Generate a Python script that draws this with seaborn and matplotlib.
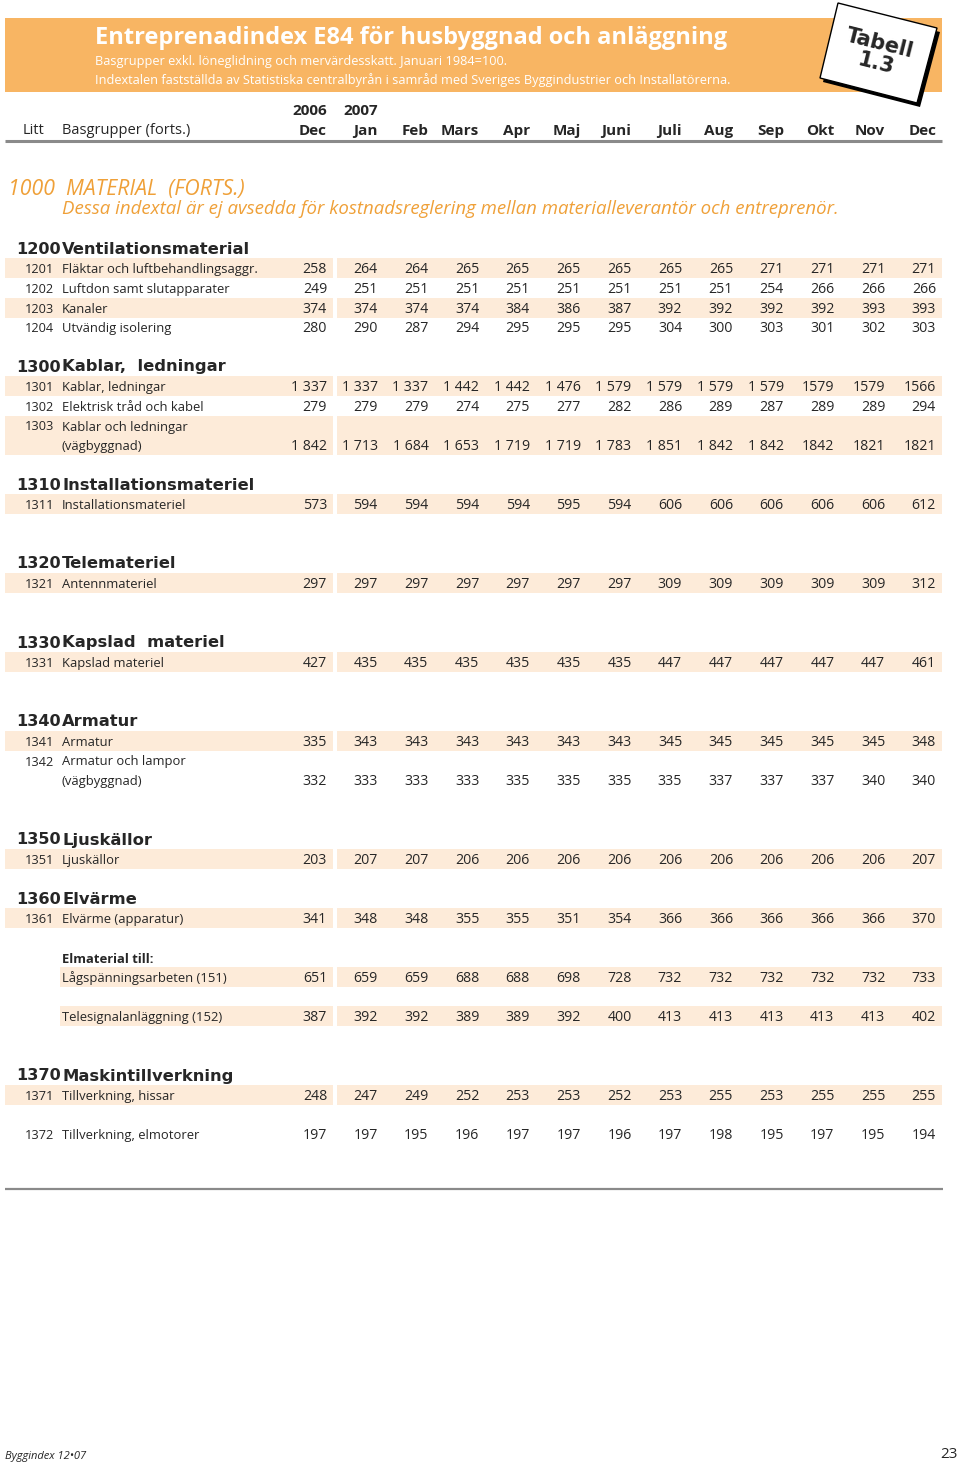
import numpy as np
import seaborn as sns
import matplotlib
matplotlib.use("Agg")
import matplotlib.pyplot as plt
import matplotlib.font_manager as fm
from matplotlib.patches import Polygon, Rectangle

# ---- data ----------------------------------------------------------------
years = ["2006", "2007"]
months = ["Dec", "Jan", "Feb", "Mars", "Apr", "Maj", "Juni", "Juli", "Aug", "Sep", "Okt", "Nov", "Dec"]

sec_codes = ["1200", "1300", "1310", "1320", "1330", "1340", "1350", "1360", "1370"]
sec_titles = ["Ventilationsmaterial", "Kablar,  ledningar", "Installationsmateriel", "Telemateriel",
              "Kapslad  materiel", "Armatur", "Ljuskällor", "Elvärme", "Maskintillverkning"]

row_codes = ["1201", "1202", "1203", "1204", "1301", "1302", "1303", "1311", "1321", "1331",
             "1341", "1342", "1351", "1361", "", "", "1371", "1372"]
row_labels = ["Fläktar och luftbehandlingsaggr.", "Luftdon samt slutapparater", "Kanaler",
              "Utvändig isolering", "Kablar, ledningar", "Elektrisk tråd och kabel",
              "Kablar och ledningar\n(vägbyggnad)", "Installationsmateriel", "Antennmateriel",
              "Kapslad materiel", "Armatur", "Armatur och lampor\n(vägbyggnad)", "Ljuskällor",
              "Elvärme (apparatur)", "Lågspänningsarbeten (151)", "Telesignalanläggning (152)",
              "Tillverkning, hissar", "Tillverkning, elmotorer"]

v1201 = [258, 264, 264, 265, 265, 265, 265, 265, 265, 271, 271, 271, 271]
v1202 = [249, 251, 251, 251, 251, 251, 251, 251, 251, 254, 266, 266, 266]
v1203 = [374, 374, 374, 374, 384, 386, 387, 392, 392, 392, 392, 393, 393]
v1204 = [280, 290, 287, 294, 295, 295, 295, 304, 300, 303, 301, 302, 303]
v1301 = [1337, 1337, 1337, 1442, 1442, 1476, 1579, 1579, 1579, 1579, 1579, 1579, 1566]
v1302 = [279, 279, 279, 274, 275, 277, 282, 286, 289, 287, 289, 289, 294]
v1303 = [1842, 1713, 1684, 1653, 1719, 1719, 1783, 1851, 1842, 1842, 1842, 1821, 1821]
v1311 = [573, 594, 594, 594, 594, 595, 594, 606, 606, 606, 606, 606, 612]
v1321 = [297, 297, 297, 297, 297, 297, 297, 309, 309, 309, 309, 309, 312]
v1331 = [427, 435, 435, 435, 435, 435, 435, 447, 447, 447, 447, 447, 461]
v1341 = [335, 343, 343, 343, 343, 343, 343, 345, 345, 345, 345, 345, 348]
v1342 = [332, 333, 333, 333, 335, 335, 335, 335, 337, 337, 337, 340, 340]
v1351 = [203, 207, 207, 206, 206, 206, 206, 206, 206, 206, 206, 206, 207]
v1361 = [341, 348, 348, 355, 355, 351, 354, 366, 366, 366, 366, 366, 370]
v151 = [651, 659, 659, 688, 688, 698, 728, 732, 732, 732, 732, 732, 733]
v152 = [387, 392, 392, 389, 389, 392, 400, 413, 413, 413, 413, 413, 402]
v1371 = [248, 247, 249, 252, 253, 253, 252, 253, 255, 253, 255, 255, 255]
v1372 = [197, 197, 195, 196, 197, 197, 196, 197, 198, 195, 197, 195, 194]

row_values = [v1201, v1202, v1203, v1204, v1301, v1302, v1303, v1311, v1321, v1331,
              v1341, v1342, v1351, v1361, v151, v152, v1371, v1372]

# ---- style -----------------------------------------------------------------
sns.set_theme(style="white")
names = {f.name for f in fm.fontManager.ttflist}
NARROW = "Liberation Sans Narrow" if "Liberation Sans Narrow" in names else "Open Sans"
plt.rcParams["font.family"] = ["Open Sans", "DejaVu Sans"]

ORANGE = "#F8B563"
ORANGE_TXT = "#EFA038"
SHADE = "#FDEBD9"
GREY = "#8a8a8a"
LABEL_FS = 9.4
DY = 1.5  # Open Sans sits a little high with va="center"

col_right = np.linspace(327, 936, len(months))


def fmt(v, col):
    # the last three columns are printed without the thousands gap
    if v >= 1000 and col < 10:
        return f"{v // 1000} {v % 1000:03d}"
    return str(v)


def shade(ax, y0, y1, x0=5):
    ax.add_patch(Rectangle((x0, y0), 333 - x0, y1 - y0, color=SHADE, lw=0, zorder=0))
    ax.add_patch(Rectangle((337, y0), 942 - 337, y1 - y0, color=SHADE, lw=0, zorder=0))


def section(ax, i, y):
    ax.text(16, y + 1, sec_codes[i], fontsize=11.6, fontweight="bold", family="DejaVu Sans", va="center")
    ax.text(62, y + 1, sec_titles[i], fontsize=11.8, fontweight="bold", family="DejaVu Sans", va="center")


def row(ax, i, y, shaded, x0=5):
    two = "\n" in row_labels[i]
    top = y - 19.5 if two else y
    if shaded:
        shade(ax, top - 10, y + 10, x0)
    if row_codes[i]:
        ax.text(25, top + DY, row_codes[i], fontsize=9.2, family=NARROW, va="center")
    for k, line in enumerate(row_labels[i].split("\n")):
        ax.text(62, top + 19.5 * k + DY, line, fontsize=LABEL_FS, family=NARROW, va="center")
    for c, v in enumerate(row_values[i]):
        ax.text(col_right[c], y + DY, fmt(v, c), fontsize=10.2, ha="right", va="center")


fig = plt.figure(figsize=(9.6, 14.65), dpi=100)
ax = fig.add_axes([0, 0, 1, 1])
ax.set_xlim(0, 960)
ax.set_ylim(1465, 0)
ax.axis("off")

# banner
ax.add_patch(Rectangle((5, 18), 937, 74, color=ORANGE, lw=0))
ax.text(95, 38, "Entreprenadindex E84 för husbyggnad och anläggning", color="white",
        fontsize=17, fontweight="bold", va="center")
ax.text(95, 62, "Basgrupper exkl. löneglidning och mervärdesskatt. Januari 1984=100.",
        color="white", fontsize=9.15, family=NARROW, va="center")
ax.text(95, 80, "Indextalen fastställda av Statistiska centralbyrån i samråd med Sveriges "
        "Byggindustrier och Installatörerna.", color="white", fontsize=9.15, family=NARROW, va="center")

# "Tabell 1.3" card
card = np.array([[838, 3], [937, 28], [917, 103], [820, 78]])
ax.add_patch(Polygon(card + [3, 4], closed=True, color="black", lw=0))
ax.add_patch(Polygon(card, closed=True, facecolor="white", edgecolor="black", lw=1))
ax.text(880, 44, "Tabell", fontsize=15, fontweight="bold", family="DejaVu Sans",
        rotation=-14, ha="center", va="center", rotation_mode="anchor")
ax.text(876, 64, "1.3", fontsize=15, fontweight="bold", family="DejaVu Sans",
        rotation=-14, ha="center", va="center", rotation_mode="anchor")

# column header
for c, yr in enumerate(years):
    ax.text(col_right[c], 111, yr, fontsize=11, fontweight="bold", ha="right", va="center")
for c, m in enumerate(months):
    ax.text(col_right[c], 131, m, fontsize=11, fontweight="bold", ha="right", va="center")
ax.text(23, 131, "Litt", fontsize=10.5, family=NARROW, va="center")
ax.text(62, 131, "Basgrupper (forts.)", fontsize=10.5, family=NARROW, va="center")
ax.plot([5, 942], [141, 141], color=GREY, lw=2.2, solid_capstyle="butt")

ax.text(8, 189, "1000  MATERIAL  (FORTS.)", color=ORANGE_TXT, fontsize=15.3, style="italic", va="center")
ax.text(62, 209, "Dessa indextal är ej avsedda för kostnadsreglering mellan materialleverantör "
        "och entreprenör.", color=ORANGE_TXT, fontsize=13.45, style="italic", va="center")

# table body
section(ax, 0, 248)
row(ax, 0, 268, True)
row(ax, 1, 288, False)
row(ax, 2, 308, True)
row(ax, 3, 327, False)

section(ax, 1, 366)
row(ax, 4, 386, True)
row(ax, 5, 406, False)
row(ax, 6, 445, True)

section(ax, 2, 484)
row(ax, 7, 504, True)

section(ax, 3, 563)
row(ax, 8, 583, True)

section(ax, 4, 642)
row(ax, 9, 662, True)

section(ax, 5, 721)
row(ax, 10, 741, True)
row(ax, 11, 780, False)

section(ax, 6, 839)
row(ax, 12, 859, True)

section(ax, 7, 898)
row(ax, 13, 918, True)

ax.text(62, 958 + DY, "Elmaterial till:", fontsize=LABEL_FS, fontweight="bold", family=NARROW, va="center")
row(ax, 14, 977, True, x0=60)
row(ax, 15, 1016, True, x0=60)

section(ax, 8, 1075)
row(ax, 16, 1095, True)
row(ax, 17, 1134, False)

ax.plot([5, 943], [1189, 1189], color=GREY, lw=1.6, solid_capstyle="butt")

# footer
ax.text(5, 1457, "Byggindex 12•07", fontsize=8, style="italic", family=NARROW, va="center")
ax.text(958, 1455, "23", fontsize=11, family=NARROW, ha="right", va="center")

fig.savefig("out.png", dpi=100)
